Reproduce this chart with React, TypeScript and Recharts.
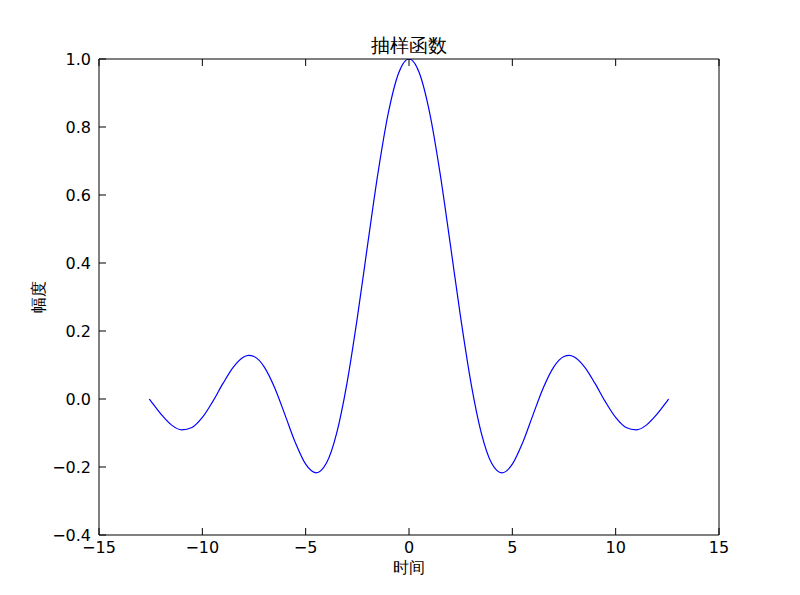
import { LineChart, Line, XAxis, YAxis, Label } from 'recharts';

// 读图得到的曲线点（x, y）
const xs = [
  -12.566, -12.5, -12, -11.5, -11, -10.5, -10, -9.5, -9, -8.5, -8, -7.75, -7.5, -7, -6.5, -6,
  -5.5, -5, -4.5, -4, -3.5, -3, -2.5, -2, -1.5, -1, -0.5, 0,
  0.5, 1, 1.5, 2, 2.5, 3, 3.5, 4, 4.5, 5, 5.5, 6, 6.5, 7, 7.5, 7.75, 8, 8.5, 9, 9.5,
  10, 10.5, 11, 11.5, 12, 12.5, 12.566,
];
const ys = [
  0, -0.0053, -0.0447, -0.0761, -0.0909, -0.0838, -0.0544, -0.0079, 0.0458, 0.0939, 0.1237, 0.1283, 0.1251, 0.0939, 0.0331, -0.0466,
  -0.1283, -0.1918, -0.2172, -0.1892, -0.1002, 0.047, 0.2394, 0.4546, 0.665, 0.8415, 0.9589, 1,
  0.9589, 0.8415, 0.665, 0.4546, 0.2394, 0.047, -0.1002, -0.1892, -0.2172, -0.1918, -0.1283, -0.0466, 0.0331, 0.0939, 0.1251, 0.1283, 0.1237, 0.0939, 0.0458, -0.0079,
  -0.0544, -0.0838, -0.0909, -0.0761, -0.0447, -0.0053, 0,
];
const xTicks = [-15, -10, -5, 0, 5, 10, 15];
const yTicks = [-0.4, -0.2, 0, 0.2, 0.4, 0.6, 0.8, 1.0];

const data = xs.map((x, i) => ({ x, y: ys[i] }));

const minus = (s: string) => s.replace('-', '\u2212');
const font = 'DejaVu Sans, sans-serif';
const tickStyle = { fill: '#000', fontSize: 16, fontFamily: font };

export default function App() {
  return (
    <div style={{ position: 'fixed', left: 0, top: 0, width: 800, height: 595, background: '#fff' }}>
      <LineChart width={800} height={595} data={data} margin={{ top: 49, right: 71, bottom: 0, left: 0 }}>
        <XAxis
          dataKey="x"
          type="number"
          domain={[-15, 15]}
          ticks={xTicks}
          height={60}
          stroke="#000"
          tickSize={-7}
          tickMargin={14}
          tick={tickStyle}
          tickFormatter={(v) => minus(String(v))}
          allowDataOverflow
        >
          <Label value="时间" position="insideBottom" offset={22} style={{ fill: '#000', fontSize: 16, fontFamily: font }} />
        </XAxis>
        <XAxis
          xAxisId="top"
          dataKey="x"
          type="number"
          orientation="top"
          domain={[-15, 15]}
          ticks={xTicks}
          height={10}
          stroke="#000"
          tickSize={-7}
          tickFormatter={() => ''}
        >
          <Label value="抽样函数" position="top" offset={-3} style={{ fill: '#000', fontSize: 19, fontFamily: font }} />
        </XAxis>
        <YAxis
          type="number"
          domain={[-0.4, 1.0]}
          ticks={yTicks}
          width={99}
          stroke="#000"
          tickSize={-7}
          tickMargin={15}
          tick={tickStyle}
          tickFormatter={(v) => minus(Number(v).toFixed(1))}
          allowDataOverflow
        >
          <Label value="幅度" angle={-90} position="insideLeft" offset={38} style={{ fill: '#000', fontSize: 16, fontFamily: font, textAnchor: 'middle' }} />
        </YAxis>
        <YAxis
          yAxisId="right"
          type="number"
          orientation="right"
          domain={[-0.4, 1.0]}
          ticks={yTicks}
          width={10}
          stroke="#000"
          tickSize={-7}
          tickFormatter={() => ''}
        />
        <Line
          dataKey="y"
          type="monotone"
          stroke="#0000ff"
          strokeWidth={1.2}
          dot={false}
          isAnimationActive={false}
        />
      </LineChart>
    </div>
  );
}
